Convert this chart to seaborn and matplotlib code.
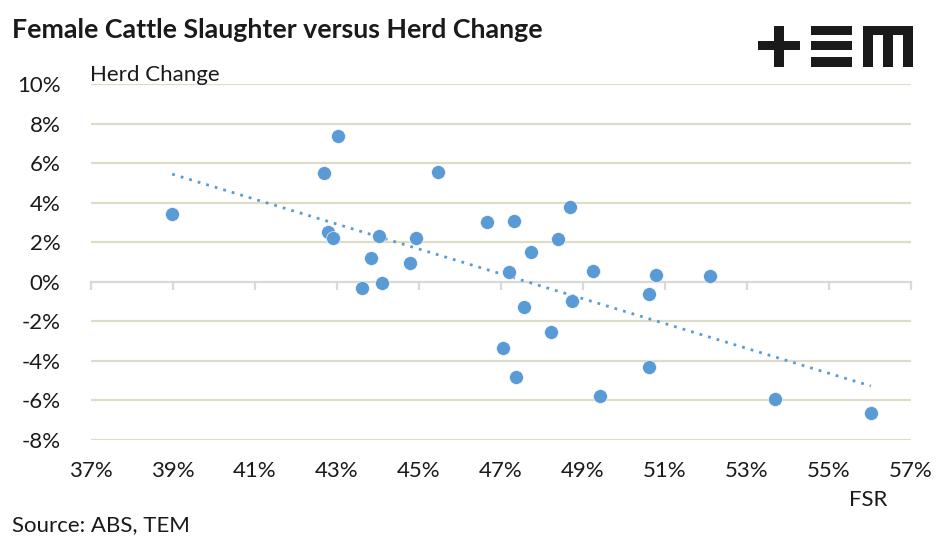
import numpy as np
import pandas as pd
import seaborn as sns
import matplotlib.pyplot as plt
from matplotlib.patches import Rectangle
from matplotlib.ticker import FuncFormatter

# female slaughter ratio (%) vs herd change (%)
fsr = [38.98, 43.02, 42.68, 42.78, 42.90, 43.82, 43.60, 44.02, 44.09, 44.92,
       44.77, 45.46, 46.67, 47.31, 48.68, 48.38, 47.73, 47.19, 49.24, 50.77,
       50.62, 48.72, 47.55, 48.21, 47.04, 47.36, 49.41, 50.60, 52.10, 53.68,
       56.02]
herd_change = [3.43, 7.37, 5.50, 2.50, 2.19, 1.18, -0.29, 2.31, -0.07, 2.19,
               0.93, 5.57, 3.01, 3.06, 3.80, 2.14, 1.53, 0.47, 0.52, 0.32,
               -0.64, -0.99, -1.25, -2.56, -3.37, -4.83, -5.79, -4.33, 0.27, -5.94,
               -6.65]
x_ticks = list(range(37, 58, 2))
y_ticks = list(range(-8, 11, 2))

W, H = 947, 545
BLUE = '#5b9bd5'
GRID = '#dcdcc8'
FONT = ['Lato', 'DejaVu Sans']

sns.set_theme(style='white')
plt.rcParams['font.family'] = FONT

df = pd.DataFrame({'fsr': fsr, 'herd': herd_change})

fig = plt.figure(figsize=(W / 100, H / 100), dpi=100)
ax = fig.add_axes([91 / W, 1 - 440 / H, 820 / W, 356 / H])

for y in y_ticks:
    if y != 0:
        ax.axhline(y, color=GRID, lw=1.6, zorder=0)

sns.regplot(data=df, x='fsr', y='herd', ax=ax, scatter=False, ci=None,
            truncate=True, color=BLUE,
            line_kws={'linestyle': (0, (1, 2.2)), 'lw': 2.0, 'zorder': 2})
sns.scatterplot(data=df, x='fsr', y='herd', ax=ax, s=100, color=BLUE,
                edgecolor='white', linewidth=0.4, zorder=3)

ax.set_xlim(37, 57)
ax.set_ylim(-8, 10)
ax.set_xlabel('')
ax.set_ylabel('')

for s in ['top', 'right', 'left']:
    ax.spines[s].set_visible(False)
ax.spines['bottom'].set_position(('data', 0))
ax.spines['bottom'].set_color('#d9d9d9')
ax.spines['bottom'].set_linewidth(1.6)
ax.spines['bottom'].set_zorder(1)
ax.set_xticks(x_ticks)
ax.tick_params(axis='x', direction='out', length=6, width=1.6, color='#d9d9d9',
               labelbottom=False, bottom=True)
ax.set_yticks(y_ticks)
ax.yaxis.set_major_formatter(FuncFormatter(lambda v, p: f'{v:.0f}%'))
ax.tick_params(axis='y', length=0, pad=22, labelsize=16, labelcolor='#1a1a1a')

# tick labels along the bottom edge
sec = ax.secondary_xaxis('bottom')
sec.set_xticks(x_ticks)
sec.xaxis.set_major_formatter(FuncFormatter(lambda v, p: f'{v:.0f}%'))
sec.tick_params(length=0, pad=15, labelsize=16, labelcolor='#1a1a1a')
sec.spines['bottom'].set_visible(False)

fig.text(12 / W, 1 - 30 / H, 'Female Cattle Slaughter versus Herd Change',
         fontsize=19.3, fontweight='bold', color='#1a1a1a', va='center', ha='left')
fig.text(90 / W, 1 - 75 / H, 'Herd Change', fontsize=16, color='#1a1a1a',
         va='center', ha='left')
fig.text(868 / W, 1 - 500 / H, 'FSR', fontsize=16, color='#1a1a1a',
         va='center', ha='center')
fig.text(12 / W, 1 - 525 / H, 'Source: ABS, TEM', fontsize=16, color='#1a1a1a',
         va='center', ha='left')

# logo blocks, pixel boxes (x0, y0, x1, y1)
logo = [(758, 41, 800, 50), (774, 26, 784, 67),
        (811, 26, 852, 35), (811, 41, 852, 50), (811, 57, 852, 67),
        (863, 26, 913, 35), (863, 26, 873, 67), (883, 26, 893, 67), (903, 26, 913, 67)]
for x0, y0, x1, y1 in logo:
    fig.add_artist(Rectangle((x0 / W, 1 - y1 / H), (x1 - x0) / W, (y1 - y0) / H,
                             transform=fig.transFigure, color='#1a1a1a', lw=0))

fig.savefig('out.png', dpi=100)
